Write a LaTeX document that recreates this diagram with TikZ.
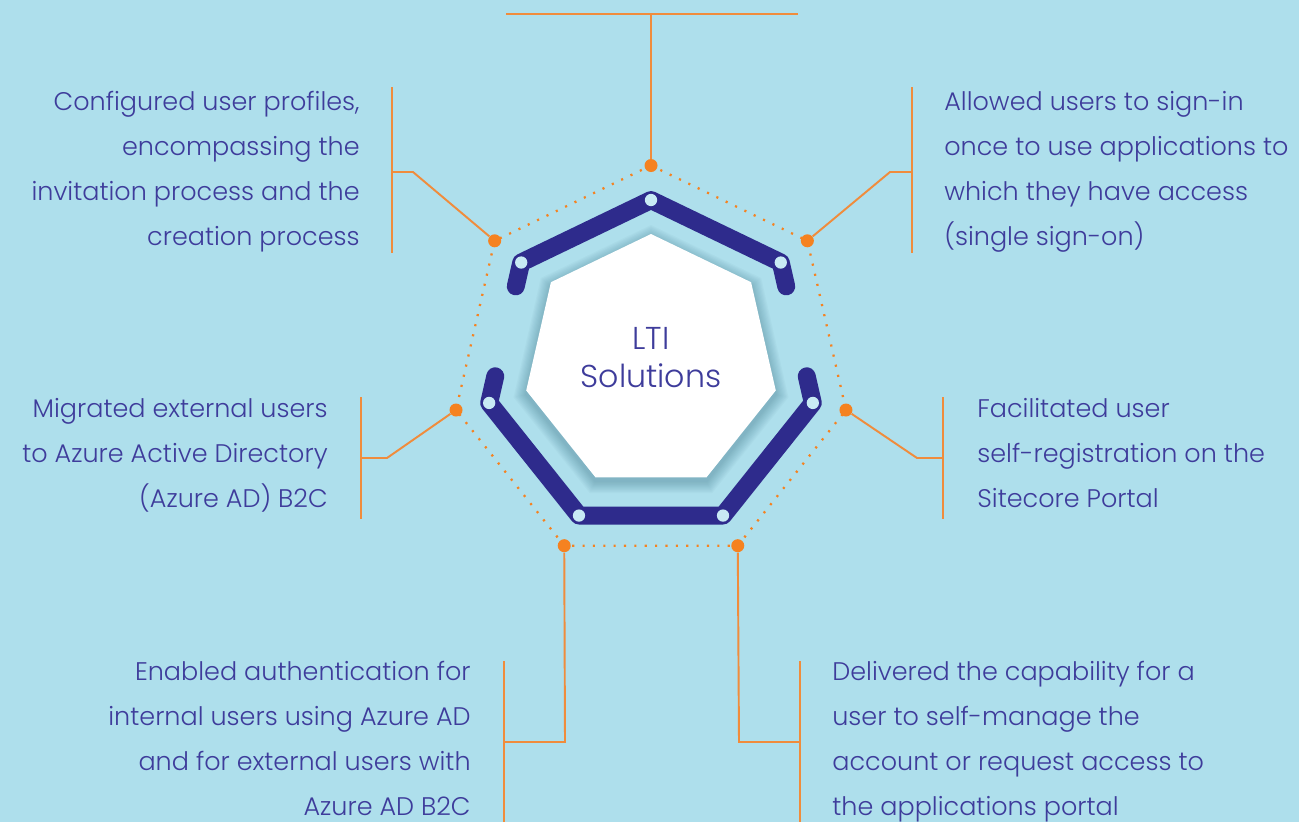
\documentclass[tikz,border=0pt]{standalone}
\usepackage{fontspec}
\setmainfont{Poppins Light}
\usetikzlibrary{calc}
\definecolor{bgblue}{RGB}{174,223,236}
\definecolor{navy}{RGB}{46,43,140}
\definecolor{txtblue}{RGB}{62,60,155}
\definecolor{dotorange}{RGB}{245,130,32}
\definecolor{lineorange}{RGB}{240,140,60}
\definecolor{jointblue}{RGB}{200,234,244}
\definecolor{shadowteal}{RGB}{25,85,105}
\tikzstyle{odot}=[circle,fill=dotorange,minimum size=7.4pt,inner sep=0pt]
\tikzstyle{joint}=[circle,fill=jointblue,minimum size=7pt,inner sep=0pt]
\tikzstyle{conn}=[draw=lineorange,line width=1.1pt]
\tikzstyle{annot}=[text=txtblue,font=\fontsize{14.5}{25.6}\selectfont,inner sep=0pt]
\tikzstyle{ring}=[draw=navy,line width=10.2pt,line cap=round,line join=round]
\begin{document}
\begin{tikzpicture}[x=0.02cm,y=-0.02cm]
	\fill[bgblue] (0,0) rectangle (1299,822);
	\useasboundingbox (0,0) rectangle (1299,822);

	% three heptagons: dots, navy ring, white core
	\foreach \i in {0,...,6}{
		\coordinate (o\i) at ({651+200*cos(90-\i*360/7)},{365.5-200*sin(90-\i*360/7)});
		\coordinate (n\i) at ({651+166*cos(90-\i*360/7)},{366-166*sin(90-\i*360/7)});
		\coordinate (w\i) at ({651+128*cos(90-\i*360/7)},{362-128*sin(90-\i*360/7)});
	}

	% soft shadow of the core
	\foreach \k in {1,...,10}
		\fill[shadowteal,opacity=0.03] (651,{366-128-1.3*\k}) \foreach \a in {1,...,6}{ -- ({651+(128+1.3*\k)*cos(90-\a*360/7)},{366-(128+1.3*\k)*sin(90-\a*360/7)}) } -- cycle;
	\fill[white] (w0) -- (w1) -- (w2) -- (w3) -- (w4) -- (w5) -- (w6) -- cycle;
	\node[text=txtblue,font=\fontsize{18}{21.6}\selectfont,align=center,anchor=base,inner sep=0pt] (title) at (651,387) {LTI\\Solutions};

	\draw[ring] ($(n6)!0.17!(n5)$) -- (n6) -- (n0) -- (n1) -- ($(n1)!0.17!(n2)$);
	\draw[ring] ($(n5)!0.19!(n6)$) -- (n5) -- (n4) -- (n3) -- (n2) -- ($(n2)!0.19!(n1)$);
	\foreach \i in {0,...,6}
		\node[joint] (j\i) at (n\i) {};

	\draw[dotorange,line width=1.3pt,dash pattern=on 1.2pt off 4.7pt] (o0) -- (o1) -- (o2) -- (o3) -- (o4) -- (o5) -- (o6) -- cycle;
	\foreach \i in {0,...,6}
		\node[odot] (d\i) at (o\i) {};

	% texts (anchored on their last baseline)
	\node[annot,align=right,anchor=base east] (t6) at (360,245) {Configured user profiles,\\encompassing the\\invitation process and the\\creation process};
	\node[annot,align=left,anchor=base west] (t1) at (944,245) {Allowed users to sign-in\\once to use applications to\\which they have access\\(single sign-on)};
	\node[annot,align=right,anchor=base east] (t5) at (328,507) {Migrated external users\\to Azure Active Directory\\(Azure AD) B2C};
	\node[annot,align=left,anchor=base west] (t2) at (977,507) {Facilitated user\\self-registration on the\\Sitecore Portal};
	\node[annot,align=right,anchor=base east] (t4) at (471,815) {Enabled authentication for\\internal users using Azure AD\\and for external users with\\Azure AD B2C};
	\node[annot,align=left,anchor=base west] (t3) at (832,815) {Delivered the capability for a\\user to self-manage the\\account or request access to\\the applications portal};

	% connectors
	\coordinate (b0) at (651,14);
	\coordinate (k6) at (413,172); \coordinate (b6) at (392,172);
	\coordinate (k1) at (890,172); \coordinate (b1) at (912,172);
	\coordinate (k5) at (387,458); \coordinate (b5) at (361,458);
	\coordinate (k2) at (917,458); \coordinate (b2) at (943,458);
	\coordinate (k4) at (565,742); \coordinate (b4) at (504,742);
	\coordinate (k3) at (739,742); \coordinate (b3) at (800,742);

	\draw[conn] (d0) -- (b0);
	\draw[conn] ($(b0)+(-145,0)$) -- ($(b0)+(147,0)$);
	\draw[conn] (d6) -- (k6) -- (b6);
	\draw[conn] (d1) -- (k1) -- (b1);
	\draw[conn] (d5) -- (k5) -- (b5);
	\draw[conn] (d2) -- (k2) -- (b2);
	\draw[conn] (d4) -- (k4) -- (b4);
	\draw[conn] (d3) -- (k3) -- (b3);
	\foreach \i in {6,1}
		\draw[conn] ($(b\i)+(0,-85)$) -- ($(b\i)+(0,81)$);
	\foreach \i in {5,2}
		\draw[conn] ($(b\i)+(0,-61)$) -- ($(b\i)+(0,61)$);
	\foreach \i in {4,3}
		\draw[conn] ($(b\i)+(0,-81)$) -- ($(b\i)+(0,80)$);
\end{tikzpicture}
\end{document}
